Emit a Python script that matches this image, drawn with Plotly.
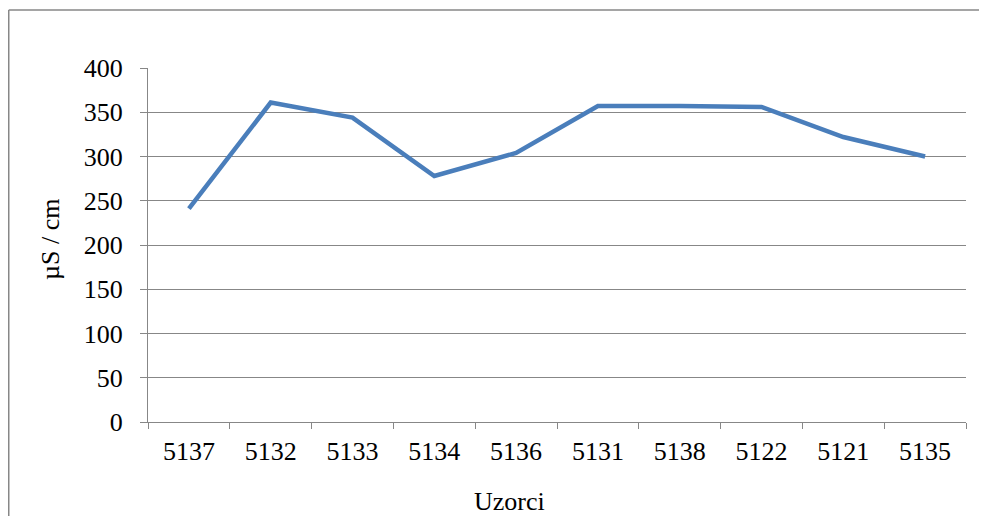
import plotly.graph_objects as go

categories = ["5137", "5132", "5133", "5134", "5136", "5131", "5138", "5122", "5121", "5135"]
values = [241, 361, 344, 278, 304, 357, 357, 356, 322, 300]
y_ticks = [0, 50, 100, 150, 200, 250, 300, 350, 400]

# The page body adds an 8px margin on every side; size the figure so it fits the window.
OFF = 8
W, H = 987 - 2 * OFF, 524 - 2 * OFF
L, T = 148 - OFF, 68 - OFF
R = W - (966 - OFF)
B = H - (422 - OFF)
pw, ph = W - L - R, H - T - B

def px_x(x):
    return (x - OFF - L) / pw

def px_y(y):
    return (H - B - (y - OFF)) / ph

font = dict(family="Liberation Serif, Times New Roman, serif", size=26, color="black")
grey = "#878787"

fig = go.Figure()
fig.add_trace(go.Scatter(
    x=categories, y=values, mode="lines",
    line=dict(color="#4a7ebb", width=4.5, shape="linear"),
    showlegend=False, hoverinfo="skip",
))

fig.update_layout(
    width=W, height=H,
    margin=dict(l=L, r=R, t=T, b=B, pad=0),
    paper_bgcolor="white", plot_bgcolor="white",
    font=font,
    xaxis=dict(
        type="category", tickson="boundaries", ticks="outside", ticklen=6,
        tickcolor=grey, tickwidth=1.3, showline=True, linecolor=grey, linewidth=1.3,
        showgrid=False, tickfont=font, ticklabelstandoff=6,
        range=[-0.5, len(categories) - 0.5],
    ),
    yaxis=dict(
        range=[0, 400], tickvals=y_ticks, ticks="outside", ticklen=7,
        tickcolor=grey, tickwidth=1.3, showline=True, linecolor=grey, linewidth=1.3,
        showgrid=True, gridcolor=grey, gridwidth=1.3, zeroline=False,
        tickfont=font, ticklabelstandoff=12,
    ),
    shapes=[
        dict(type="line", xref="paper", yref="paper",
             x0=px_x(OFF + 0.75), x1=px_x(1000), y0=px_y(10), y1=px_y(10),
             line=dict(color=grey, width=1.5)),
        dict(type="line", xref="paper", yref="paper",
             x0=px_x(OFF + 0.75), x1=px_x(OFF + 0.75), y0=px_y(10), y1=px_y(540),
             line=dict(color=grey, width=1.5)),
    ],
    annotations=[
        dict(text="Uzorci", xref="paper", yref="paper", x=px_x(509), y=px_y(502),
             xanchor="center", yanchor="middle", showarrow=False, font=font),
        dict(text="µS / cm", xref="paper", yref="paper", x=px_x(50), y=px_y(240),
             xanchor="center", yanchor="middle", showarrow=False, textangle=-90, font=font),
    ],
)

fig.write_html("out.html")
